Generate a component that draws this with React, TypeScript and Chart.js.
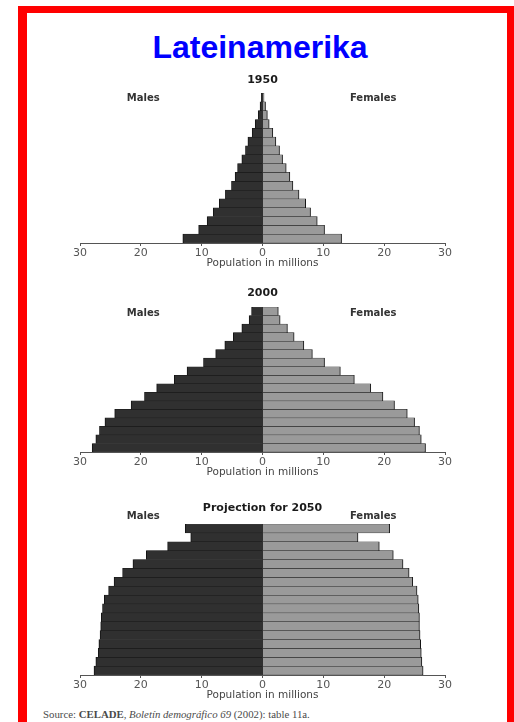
import React, { useEffect, useRef } from "react";
import { Chart, registerables } from "chart.js";

Chart.register(...registerables);

// ---------- data ----------
const AGE_GROUPS = [
  "0-4", "5-9", "10-14", "15-19", "20-24", "25-29", "30-34", "35-39", "40-44",
  "45-49", "50-54", "55-59", "60-64", "65-69", "70-74", "75-79", "80+",
];

const MALES_1950 = [13.1, 10.5, 9.1, 8.1, 7.1, 6.1, 5.1, 4.5, 4.1, 3.4, 2.8, 2.4, 1.7, 1.2, 0.7, 0.4, 0.2];
const FEMALES_1950 = [13.0, 10.2, 9.0, 7.9, 7.1, 6.0, 5.0, 4.5, 3.9, 3.3, 2.8, 2.2, 1.7, 1.1, 0.8, 0.5, 0.25];

const MALES_2000 = [28.0, 27.4, 26.8, 25.9, 24.3, 21.6, 19.4, 17.4, 14.5, 12.4, 9.7, 7.7, 6.2, 4.8, 3.4, 2.2, 1.8];
const FEMALES_2000 = [26.8, 26.1, 25.8, 25.0, 23.8, 21.7, 19.8, 17.8, 15.1, 12.8, 10.2, 8.2, 6.8, 5.2, 4.1, 2.9, 2.6];

const MALES_2050 = [27.7, 27.4, 27.0, 26.9, 26.7, 26.6, 26.5, 26.3, 26.0, 25.3, 24.4, 23.0, 21.3, 19.1, 15.6, 11.8, 12.7];
const FEMALES_2050 = [26.4, 26.2, 26.1, 26.0, 25.9, 25.8, 25.8, 25.7, 25.6, 25.4, 24.7, 24.1, 23.1, 21.5, 19.2, 15.7, 20.9];

const X_MIN = -30;
const X_MAX = 30;
const X_STEP = 10;

const SIDE_LABELS = ["Males", "Females"];
const SIDE_LABEL_VALUES = [-19.6, 18.2];

const MAIN_TITLE = "Lateinamerika";
const AXIS_TITLE = "Population in millions";
const SOURCE_TEXT_PARTS = ["Source: ", "CELADE", ", ", "Boletín demográfico 69", " (2002): table 11a."];

// ---------- style ----------
const FONT = '"DejaVu Sans", "Liberation Sans", Arial, sans-serif';
const MALE_COLOR = "#303030";
const FEMALE_COLOR = "#9a9a9a";
const BAR_BORDER = "#141414";

const sideLabelsPlugin = {
  id: "sideLabels",
  afterDatasetsDraw(chart: any) {
    // close the half-gridline gap Chart.js leaves at the zero base
    const { ctx, chartArea, scales } = chart;
    const x0 = scales.x.getPixelForValue(0);
    ctx.save();
    ctx.fillStyle = MALE_COLOR;
    ctx.fillRect(x0 - 0.5, chartArea.top, 1, chartArea.bottom - chartArea.top);
    ctx.restore();
  },
  afterDraw(chart: any, _args: any, opts: any) {
    const { ctx, chartArea, scales } = chart;
    ctx.save();
    ctx.font = `bold 10px ${FONT}`;
    ctx.fillStyle = "#333";
    ctx.textAlign = "center";
    ctx.textBaseline = "middle";
    const y = chartArea.top + (opts.offset || 0);
    SIDE_LABELS.forEach((t, i) => {
      ctx.fillText(t, scales.x.getPixelForValue(SIDE_LABEL_VALUES[i]), y);
    });
    ctx.restore();
  },
};

type PyramidProps = {
  title: string;
  males: number[];
  females: number[];
  chartTop: number;
  chartBottom: number;
  titleGap: number;
  labelOffset: number;
};

const CANVAS_W = 514;
const AREA_LEFT = 80;
const AREA_RIGHT = 445;
const ABOVE = 24;
const BELOW = 32;
const AXIS_H = 30;

function Pyramid({ title, males, females, chartTop, chartBottom, titleGap, labelOffset }: PyramidProps) {
  const ref = useRef<HTMLCanvasElement | null>(null);
  const canvasTop = chartTop - ABOVE;
  const canvasH = chartBottom + BELOW - canvasTop;

  useEffect(() => {
    if (!ref.current) return;
    const tb = titleGap - 5.5;
    const tp = ABOVE - 11 - tb;
    const barStyle = {
      borderColor: BAR_BORDER,
      borderWidth: { top: 0.5, bottom: 0.5, left: 1, right: 1 } as any,
      borderSkipped: "start",
      barPercentage: 1,
      categoryPercentage: 1,
    };
    const chart = new Chart(ref.current, {
      type: "bar",
      data: {
        labels: AGE_GROUPS,
        datasets: [
          {
            label: SIDE_LABELS[0],
            data: males.map((v) => -v),
            backgroundColor: MALE_COLOR,
            ...barStyle,
          },
          {
            label: SIDE_LABELS[1],
            data: females,
            backgroundColor: FEMALE_COLOR,
            ...barStyle,
          },
        ],
      } as any,
      plugins: [sideLabelsPlugin],
      options: {
        indexAxis: "y",
        animation: false,
        responsive: false,
        devicePixelRatio: 1,
        layout: {
          padding: { left: AREA_LEFT, right: CANVAS_W - AREA_RIGHT, top: 0, bottom: BELOW - AXIS_H },
        },
        plugins: {
          legend: { display: false },
          tooltip: { enabled: false },
          title: {
            display: true,
            text: title,
            color: "#1a1a1a",
            font: { family: FONT, size: 11, weight: "bold", lineHeight: 1 },
            padding: { top: tp, bottom: tb },
          },
          sideLabels: { offset: labelOffset },
        } as any,
        scales: {
          x: {
            type: "linear",
            min: X_MIN,
            max: X_MAX,
            stacked: true,
            ticks: {
              stepSize: X_STEP,
              callback: (v: any) => String(Math.abs(Number(v))),
              font: { family: FONT, size: 11 },
              color: "#555",
              padding: 1,
              maxRotation: 0,
              autoSkip: false,
            },
            grid: {
              display: true,
              drawOnChartArea: false,
              drawTicks: true,
              tickLength: 3,
              color: "#555",
            },
            border: { display: true, color: "#555", width: 1 },
            title: {
              display: true,
              text: AXIS_TITLE,
              color: "#444",
              font: { family: FONT, size: 10.5 },
              padding: { top: 0, bottom: 3 },
            },
            afterFit: (scale: any) => {
              scale.height = AXIS_H;
            },
          },
          y: {
            type: "category",
            stacked: true,
            reverse: true,
            display: false,
          },
        },
      } as any,
    });
    return () => chart.destroy();
  }, []);

  return (
    <canvas
      ref={ref}
      width={CANVAS_W}
      height={canvasH}
      style={{ position: "absolute", left: 0, top: canvasTop, width: CANVAS_W, height: canvasH }}
    />
  );
}

export default function App() {
  return (
    <div
      style={{
        position: "absolute",
        left: 0,
        top: 0,
        width: 514,
        height: 722,
        background: "#fff",
        overflow: "hidden",
      }}
    >
      <div
        style={{
          position: "absolute",
          left: 18,
          top: 6,
          width: 496,
          height: 740,
          boxSizing: "border-box",
          borderLeft: "9px solid #ff0000",
          borderTop: "7px solid #ff0000",
          borderRight: "7px solid #ff0000",
        }}
      />
      <div
        style={{
          position: "absolute",
          left: 0,
          top: 31,
          width: 520,
          textAlign: "center",
          fontFamily: '"Liberation Sans", Arial, sans-serif',
          fontWeight: "bold",
          fontSize: 32,
          lineHeight: "32px",
          color: "#0000ff",
        }}
      >
        {MAIN_TITLE}
      </div>
      <Pyramid title="1950" males={MALES_1950} females={FEMALES_1950} chartTop={93} chartBottom={243} titleGap={13} labelOffset={5.5} />
      <Pyramid title="2000" males={MALES_2000} females={FEMALES_2000} chartTop={307} chartBottom={452} titleGap={13.5} labelOffset={6.5} />
      <Pyramid title="Projection for 2050" males={MALES_2050} females={FEMALES_2050} chartTop={524} chartBottom={675} titleGap={15.5} labelOffset={-8} />
      <div
        style={{
          position: "absolute",
          left: 43,
          top: 708,
          whiteSpace: "nowrap",
          fontFamily: '"Liberation Serif", "Times New Roman", serif',
          fontSize: 10.8,
          lineHeight: "12px",
          color: "#4a4a4a",
        }}
      >
        {SOURCE_TEXT_PARTS[0]}
        <b>{SOURCE_TEXT_PARTS[1]}</b>
        {SOURCE_TEXT_PARTS[2]}
        <i>{SOURCE_TEXT_PARTS[3]}</i>
        {SOURCE_TEXT_PARTS[4]}
      </div>
    </div>
  );
}
